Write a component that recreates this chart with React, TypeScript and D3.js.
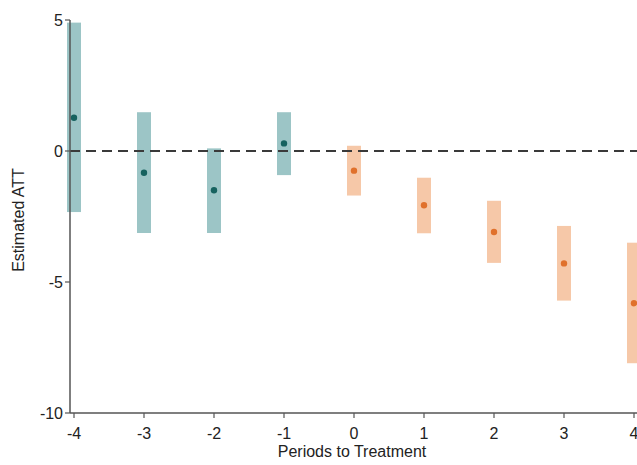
import React from 'react'
import * as d3 from 'd3'

// periods relative to treatment
const periods = [-4, -3, -2, -1, 0, 1, 2, 3, 4]
const estimates = [1.27, -0.83, -1.5, 0.29, -0.75, -2.07, -3.09, -4.29, -5.81]
const upper = [4.9, 1.48, 0.1, 1.48, 0.2, -1.02, -1.9, -2.86, -3.5]
const lower = [-2.33, -3.13, -3.13, -0.92, -1.7, -3.14, -4.27, -5.71, -8.1]
const yTicks = [5, 0, -5, -10]

const W = 637
const H = 465
const margin = { top: 20, right: 3, bottom: 52, left: 70 }

const App = () => {
    const x = d3.scaleLinear().domain([-4, 4]).range([74, 634])
    const y = d3.scaleLinear().domain([-10, 5]).range([413, 20])

    const font = '"Liberation Sans", Arial, sans-serif'
    const axisColor = '#555'
    const barW = 14

    return (
        <svg width={W} height={H} style={{ position: 'absolute', left: 0, top: 0, background: '#fff' }} fontFamily={font}>
            {/* confidence bands */}
            {periods.map((p, i) => (
                <rect
                    key={'b' + p}
                    x={x(p) - barW / 2}
                    y={y(upper[i])}
                    width={barW}
                    height={y(lower[i]) - y(upper[i])}
                    fill={p < 0 ? '#9cc5c6' : '#f6c8a8'}
                />
            ))}

            {/* zero reference line */}
            <line x1={margin.left} x2={W} y1={y(0)} y2={y(0)} stroke="#3a3a3a" strokeWidth={2} strokeDasharray="10,6" />

            {/* point estimates */}
            {periods.map((p, i) => (
                <circle key={'p' + p} cx={x(p)} cy={y(estimates[i])} r={3.2} fill={p < 0 ? '#16625f' : '#e0712c'} />
            ))}

            {/* y axis */}
            <line x1={margin.left} x2={margin.left} y1={y(5)} y2={y(-10)} stroke={axisColor} strokeWidth={1.5} />
            {yTicks.map(t => (
                <g key={'y' + t}>
                    <line x1={margin.left - 5} x2={margin.left} y1={y(t)} y2={y(t)} stroke={axisColor} strokeWidth={1.2} />
                    <text x={margin.left - 7} y={y(t)} dy="0.35em" textAnchor="end" fontSize={16} fill="#222">{t}</text>
                </g>
            ))}

            {/* x axis */}
            <line x1={margin.left} x2={W} y1={y(-10)} y2={y(-10)} stroke={axisColor} strokeWidth={1.5} />
            {periods.map(p => (
                <g key={'x' + p}>
                    <line x1={x(p)} x2={x(p)} y1={y(-10)} y2={y(-10) + 5} stroke={axisColor} strokeWidth={1.2} />
                    <text x={x(p)} y={y(-10) + 26} textAnchor="middle" fontSize={16} fill="#222">{p}</text>
                </g>
            ))}

            <text x={352} y={457} textAnchor="middle" fontSize={16} fill="#222">Periods to Treatment</text>
            <text transform={`translate(24,220) rotate(-90)`} textAnchor="middle" fontSize={16} fill="#222">Estimated ATT</text>
        </svg>
    )
}

export default App
